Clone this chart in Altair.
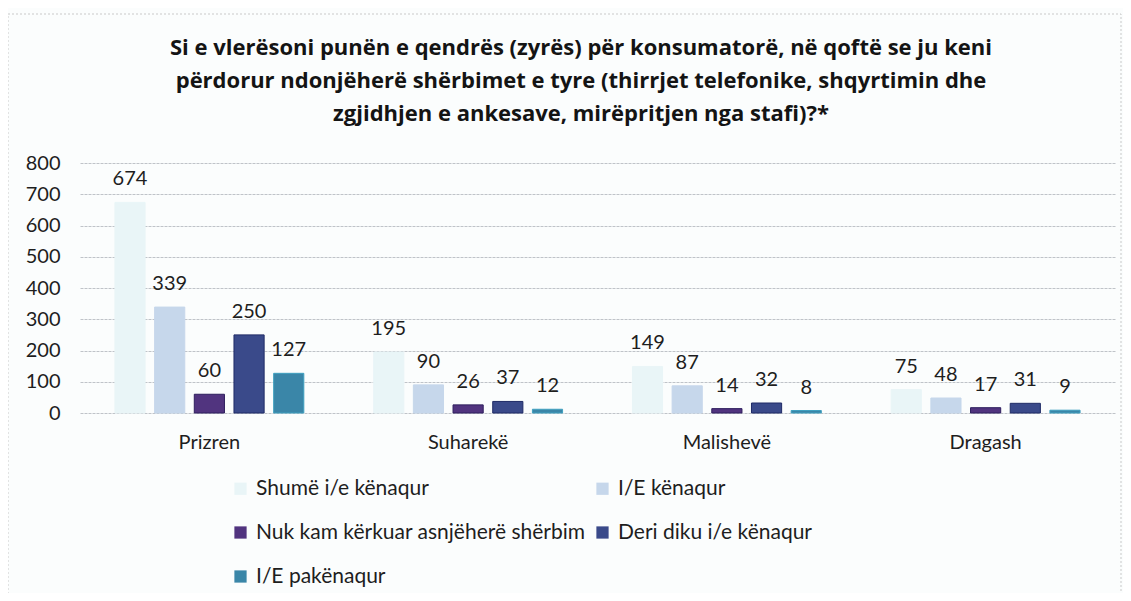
import altair as alt
import pandas as pd

cities = ["Prizren", "Suharekë", "Malishevë", "Dragash"]
series = [
    "Shumë i/e kënaqur",
    "I/E kënaqur",
    "Nuk kam kërkuar asnjëherë shërbim",
    "Deri diku i/e kënaqur",
    "I/E pakënaqur",
]
shume_kenaqur = [674, 195, 149, 75]
kenaqur = [339, 90, 87, 48]
nuk_kam_kerkuar = [60, 26, 14, 17]
deri_diku = [250, 37, 32, 31]
pakenaqur = [127, 12, 8, 9]
colors = ["#e9f5f7", "#c6d7eb", "#51347f", "#3a4a8a", "#3a86a8"]
strokes = ["#e9f5f7", "#c6d7eb", "#2e1f5e", "#1f2b66", "#3fa0c0"]
y_ticks = [0, 100, 200, 300, 400, 500, 600, 700, 800]
title_text = "\n".join([
    "Si e vlerësoni punën e qendrës (zyrës) për konsumatorë, në qoftë se ju keni",
    "përdorur ndonjëherë shërbimet e tyre (thirrjet telefonike, shqyrtimin dhe",
    "zgjidhjen e ankesave, mirëpritjen nga stafi)?*",
])

rows = []
for s, vals in zip(series, [shume_kenaqur, kenaqur, nuk_kam_kerkuar, deri_diku, pakenaqur]):
    for c, v in zip(cities, vals):
        rows.append({"city": c, "series": s, "value": v})
df = pd.DataFrame(rows)

FONT = "Lato"
TXT = "#1e1e1e"

x_enc = alt.X(
    "city:N",
    sort=cities,
    scale=alt.Scale(paddingInner=0.27, paddingOuter=0.135),
    axis=alt.Axis(
        title=None, labelAngle=0, ticks=False, domain=False,
        labelPadding=19, labelFontSize=20, labelFont=FONT, labelColor=TXT,
    ),
)
xoff = alt.XOffset(
    "series:N", sort=series, scale=alt.Scale(paddingInner=0.24, paddingOuter=0)
)
y_enc = alt.Y(
    "value:Q",
    scale=alt.Scale(domain=[0, 800], nice=False),
    axis=alt.Axis(
        title=None, values=y_ticks, labelOverlap=False,
        ticks=False, domain=False, labelPadding=20, labelFontSize=20,
        labelFont=FONT, labelColor=TXT, grid=True, gridColor="#bfc3c8",
        gridDash=[3, 1], gridWidth=1,
    ),
)

bars = alt.Chart(df).mark_bar(strokeWidth=1).encode(
    x=x_enc,
    xOffset=xoff,
    y=y_enc,
    color=alt.Color(
        "series:N",
        sort=series,
        scale=alt.Scale(domain=series, range=colors),
        legend=alt.Legend(
            title=None, orient="none", legendX=150, legendY=315,
            direction="horizontal", columns=2, columnPadding=6, rowPadding=22,
            symbolType="square", symbolSize=150, symbolStrokeWidth=0,
            labelFontSize=21, labelFont=FONT, labelColor=TXT, labelOffset=5,
            labelLimit=0,
        ),
    ),
    stroke=alt.Stroke(
        "series:N", sort=series,
        scale=alt.Scale(domain=series, range=strokes), legend=None,
    ),
)

labels = alt.Chart(df).mark_text(
    baseline="alphabetic", dy=-17, fontSize=20, font=FONT, color=TXT
).encode(
    x=x_enc,
    xOffset=xoff,
    y=y_enc,
    text="value:Q",
)

border = alt.Chart(alt.Data(values=[{}])).mark_rect(
    fill=None, stroke="#c9c9c9", strokeWidth=1, strokeDash=[2, 2]
).encode(
    x=alt.value(-72), x2=alt.value(1041), y=alt.value(-149), y2=alt.value(460)
)

title = alt.Chart(alt.Data(values=[{"t": title_text}])).mark_text(
    font="Open Sans", fontSize=22, fontWeight="bold", color="#141414",
    align="center", baseline="alphabetic", lineBreak="\n", lineHeight=33,
).encode(
    text="t:N", x=alt.value(501), y=alt.value(-108)
)

chart = alt.layer(border, title, bars, labels).properties(
    width=1035,
    height=250,
    padding={"left": 72, "top": 155, "right": 8, "bottom": 180},
    autosize=alt.AutoSizeParams(type="none"),
    background="#fbfdfd",
).configure_view(stroke=None)

chart.save("out.html", embed_options={"renderer": "svg", "actions": False})
